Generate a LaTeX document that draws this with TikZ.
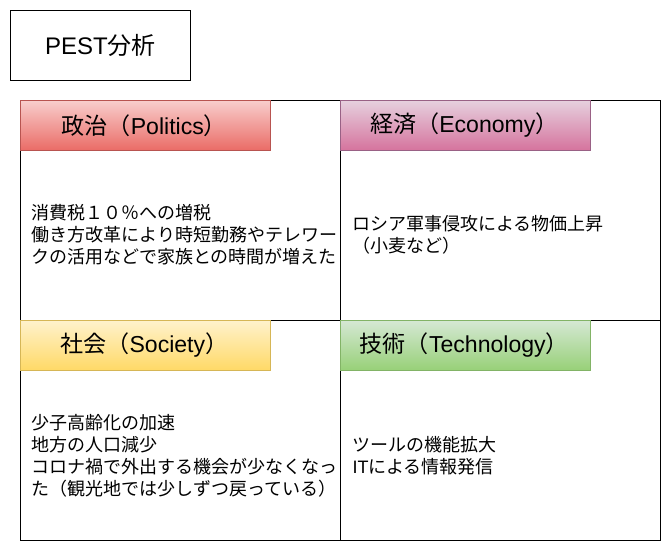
\documentclass[tikz,border=0pt]{standalone}
\usepackage{fontspec}
\setmainfont{Liberation Sans}
\newfontfamily\jp{Noto Sans CJK JP}
\definecolor{pTop}{HTML}{F8CECC}\definecolor{pBot}{HTML}{EA6B66}\definecolor{pLine}{HTML}{B85450}
\definecolor{eTop}{HTML}{E6D0DE}\definecolor{eBot}{HTML}{D5739D}\definecolor{eLine}{HTML}{996185}
\definecolor{sTop}{HTML}{FFF2CC}\definecolor{sBot}{HTML}{FFD966}\definecolor{sLine}{HTML}{D6B656}
\definecolor{tTop}{HTML}{D5E8D4}\definecolor{tBot}{HTML}{97D077}\definecolor{tLine}{HTML}{82B366}
\begin{document}
\begin{tikzpicture}[x=0.75pt,y=-0.75pt,line width=0.75pt,
  cell/.style={draw=black,fill=white,minimum width=240pt,minimum height=165pt,inner sep=0pt,anchor=north west},
  hdr/.style={minimum width=187.5pt,minimum height=37.5pt,inner sep=0pt,anchor=north west},
  htext/.style={font=\fontsize{17.3}{20}\selectfont,inner sep=0pt},
  body/.style={anchor=west,align=left,inner sep=0pt,font=\jp\fontsize{13.5}{16.5}\selectfont}]
\useasboundingbox (0,0) rectangle (672,552);
% title
\node[draw=black,minimum width=135pt,minimum height=52.5pt,inner sep=0pt,anchor=north west,
      font=\fontsize{18}{21}\selectfont] (title) at (10,10) {PEST{\jp 分析}};
% cells
\node[cell] (pc) at (20,100) {};
\node[cell] (ec) at (340,100) {};
\node[cell] (sc) at (20,320) {};
\node[cell] (tc) at (340,320) {};
% headers
\node[hdr,top color=pTop,bottom color=pBot,draw=pLine] (ph) at (20,100) {};
\node[hdr,top color=eTop,bottom color=eBot,draw=eLine] (eh) at (340,100) {};
\node[hdr,top color=sTop,bottom color=sBot,draw=sLine] (sh) at (20,320) {};
\node[hdr,top color=tTop,bottom color=tBot,draw=tLine] (th) at (340,320) {};
\node[htext] (pt) at ([xshift=-0.9pt]ph.center) {{\jp 政治（}Politics{\jp ）}};
\node[htext] (et) at ([xshift=-0.9pt]eh.center) {{\jp 経済（}Economy{\jp ）}};
\node[htext] (st) at ([xshift=-0.9pt]sh.center) {{\jp 社会（}Society{\jp ）}};
\node[htext] (tt) at ([xshift=-0.9pt]th.center) {{\jp 技術（}Technology{\jp ）}};
% bodies
\node[body] (pb) at (31,235) {消費税１０％への増税\\働き方改革により時短勤務やテレワー\\クの活用などで家族との時間が増えた};
\node[body] (eb) at (352,235) {ロシア軍事侵攻による物価上昇\\（小麦など）};
\node[body] (sb) at (31,456) {少子高齢化の加速\\地方の人口減少\\コロナ禍で外出する機会が少なくなっ\\た（観光地では少しずつ戻っている）};
\node[body] (tb) at (352,456) {ツールの機能拡大\\{\rmfamily IT}による情報発信};
\end{tikzpicture}
\end{document}
